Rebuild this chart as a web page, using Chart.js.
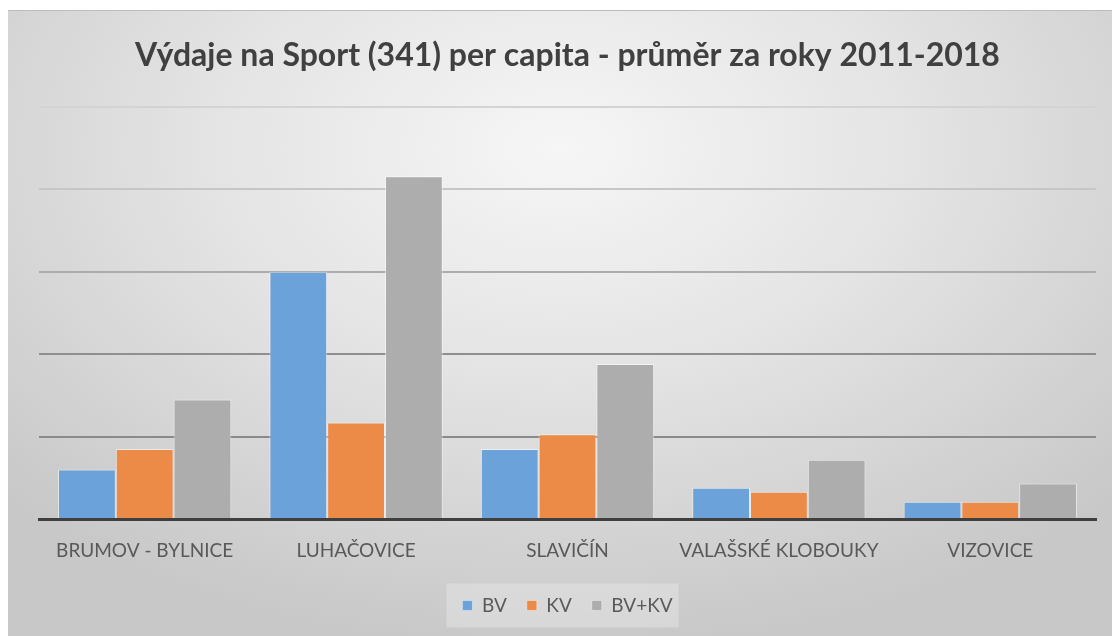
<!DOCTYPE html>
<html>
<head>
<meta charset="utf-8">
<script src="https://cdn.jsdelivr.net/npm/chart.js@4/dist/chart.umd.min.js"></script>
<style>
  html, body { margin: 0; padding: 0; background: #ffffff; }
  #wrap { position: relative; width: 1112px; height: 636px; overflow: hidden; }
  #bg {
    position: absolute; left: 8px; top: 10px; right: 0; bottom: 0;
    background: radial-gradient(ellipse 70% 80% at 50% 22%, #f6f6f6 0%, #e4e4e4 45%, #d2d2d2 80%, #c8c8c8 100%);
    border-top: 1px solid #bdbdbd;
  }
  canvas { position: absolute; left: 0; top: 0; }
</style>
</head>
<body>
<div id="wrap">
  <div id="bg"></div>
  <canvas id="myChart" width="1112" height="636"></canvas>
</div>
<script>
  // categories and series (values in gridline units)
  var categories = ["BRUMOV - BYLNICE", "LUHAČOVICE", "SLAVIČÍN", "VALAŠSKÉ KLOBOUKY", "VIZOVICE"];
  var bv = [0.60, 3.00, 0.85, 0.38, 0.21];
  var kv = [0.85, 1.17, 1.03, 0.33, 0.21];
  var bvkv = [1.45, 4.16, 1.88, 0.72, 0.43];

  // gridline colours get lighter towards the top
  var gridColors = ["rgba(0,0,0,0)", "#8a8a8a", "#8f8f8f", "#acacac", "#c6c6c6", "#d3d3d3"];

  var legendBox = {
    id: "legendBox",
    beforeDraw: function (chart) {
      var boxes = chart.legend && chart.legend.legendHitBoxes;
      if (!boxes || !boxes.length) return;
      var last = boxes[boxes.length - 1];
      var left = boxes[0].left - 16, right = last.left + last.width + 6;
      var cy = boxes[0].top + boxes[0].height / 2;
      var ctx = chart.ctx;
      ctx.save();
      ctx.fillStyle = "rgba(255,255,255,0.25)";
      ctx.fillRect(left, cy - 22, right - left, 44);
      ctx.restore();
    }
  };

  var ctx = document.getElementById("myChart").getContext("2d");
  var myChart = new Chart(ctx, {
    type: "bar",
    data: {
      labels: categories,
      datasets: [
        { label: "BV", data: bv, backgroundColor: "#6aa2d9" },
        { label: "KV", data: kv, backgroundColor: "#ec8b48" },
        { label: "BV+KV", data: bvkv, backgroundColor: "#adadad" }
      ]
    },
    options: {
      responsive: false,
      animation: false,
      layout: { padding: { left: 39, right: 16, top: 10, bottom: 11 } },
      datasets: {
        bar: {
          categoryPercentage: 0.82,
          barPercentage: 1.0,
          borderWidth: { left: 1, right: 1, top: 1 },
          borderColor: "rgba(255,255,255,0.5)",
          borderSkipped: "bottom"
        }
      },
      plugins: {
        title: {
          display: true,
          text: "Výdaje na Sport (341) per capita - průměr za roky 2011-2018",
          color: "#404040",
          font: { family: "Lato", size: 32, weight: "bold" },
          padding: { top: 26, bottom: 32.6 }
        },
        legend: {
          position: "bottom",
          labels: {
            color: "#595959",
            font: { family: "Lato", size: 19 },
            boxWidth: 10,
            boxHeight: 10,
            padding: 20
          }
        },
        tooltip: { enabled: false }
      },
      scales: {
        x: {
          grid: { display: false, drawTicks: false },
          border: { display: true, color: "#3f3f3f", width: 3 },
          ticks: {
            color: "#595959",
            font: { family: "Lato", size: 19 },
            padding: 20,
            maxRotation: 0,
            autoSkip: false
          },
          afterFit: function (s) { s.height = 57; }
        },
        y: {
          min: 0,
          max: 5,
          ticks: { display: false, stepSize: 1 },
          grid: {
            drawTicks: false,
            lineWidth: 2,
            color: function (c) { return gridColors[c.index] || "#cccccc"; }
          },
          border: { display: false },
          afterFit: function (s) { s.width = 0; }
        }
      }
    },
    plugins: [legendBox]
  });
</script>
</body>
</html>
